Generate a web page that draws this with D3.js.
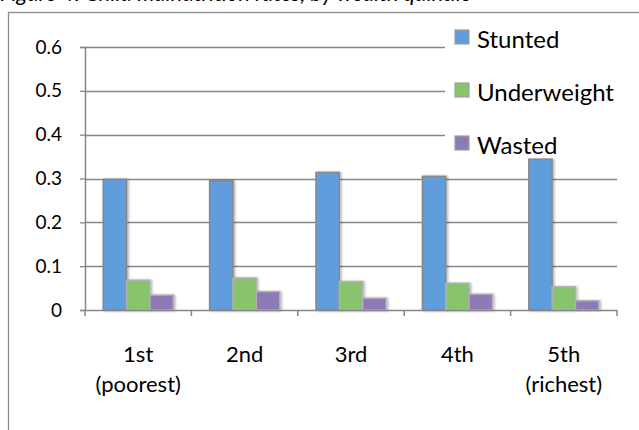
<!DOCTYPE html>
<html>
<head>
<meta charset="utf-8">
<script src="https://cdn.jsdelivr.net/npm/d3@7/dist/d3.min.js"></script>
<style>
  body { margin: 0; background: #fff; }
  svg { display: block; font-family: Lato, "Open Sans", sans-serif; }
</style>
</head>
<body>
<div id="chart"></div>
<script>
// data
const quintiles   = [["1st", "(poorest)"], ["2nd"], ["3rd"], ["4th"], ["5th", "(richest)"]];
const seriesNames = ["Stunted", "Underweight", "Wasted"];
const stunted     = [0.298, 0.295, 0.314, 0.305, 0.344];
const underweight = [0.068, 0.073, 0.065, 0.061, 0.053];
const wasted      = [0.034, 0.042, 0.027, 0.036, 0.021];
const yTicks      = [0, 0.1, 0.2, 0.3, 0.4, 0.5, 0.6];
const titleText   = "Figure 4: Child malnutrition rates, by wealth quintile";

const WIDTH  = 639;
const HEIGHT = 430;
const PLOT   = { left: 85, right: 617, top: 47, bottom: 310 };
const COLORS = { Stunted: "#5f9ddc", Underweight: "#88c36d", Wasted: "#8f7ab8" };
const EDGE   = { Stunted: "#888", Underweight: "#b0b0b0", Wasted: "#b0b0b0" };
const GRID   = "#878787";

const values = { Stunted: stunted, Underweight: underweight, Wasted: wasted };
const cats   = quintiles.map(q => q.join(" "));
const rows   = cats.map((c, i) => ({ cat: c, lines: quintiles[i],
    vals: seriesNames.map(s => ({ key: s, value: values[s][i] })) }));

const svg = d3.select("#chart").append("svg")
    .attr("width", WIDTH)
    .attr("height", HEIGHT);

const defs = svg.append("defs");
defs.append("filter").attr("id", "shadow")
    .attr("x", "-30%").attr("y", "-10%").attr("width", "170%").attr("height", "130%")
    .append("feDropShadow")
    .attr("dx", 1.5).attr("dy", 0.5).attr("stdDeviation", 1.3)
    .attr("flood-color", "#000").attr("flood-opacity", 0.3);

// title (mostly cut off by the top edge, as in the source)
svg.append("text")
    .attr("x", 0).attr("y", 1)
    .attr("font-size", 22).attr("font-style", "italic")
    .attr("fill", "#000")
    .text(titleText);

// chart frame
svg.append("rect")
    .attr("x", 8.5).attr("y", 12.5)
    .attr("width", 800).attr("height", 600)
    .attr("fill", "none").attr("stroke", "#8c8c8c").attr("stroke-width", 1.3);

const x0 = d3.scaleBand().domain(cats).range([PLOT.left, PLOT.right]).paddingInner(0).paddingOuter(0);
const x1 = d3.scaleBand().domain(seriesNames).range([0, x0.bandwidth()]).paddingInner(0).paddingOuter(0.78);
const y  = d3.scaleLinear().domain([0, 0.6]).range([PLOT.bottom, PLOT.top]);

// gridlines
svg.append("g")
    .selectAll("line")
    .data(yTicks.filter(d => d > 0))
    .join("line")
    .attr("x1", PLOT.left).attr("x2", PLOT.right)
    .attr("y1", d => Math.round(y(d)) + 0.5).attr("y2", d => Math.round(y(d)) + 0.5)
    .attr("stroke", GRID).attr("stroke-width", 1.3);

// y axis
const yAxis = svg.append("g")
    .attr("transform", `translate(${PLOT.left},0)`)
    .call(d3.axisLeft(y).tickValues(yTicks).tickSize(5).tickPadding(18)
        .tickFormat(d => d === 0 ? "0" : d3.format(".1f")(d)));
yAxis.select(".domain").attr("stroke", GRID).attr("stroke-width", 1.5);
yAxis.selectAll(".tick line").attr("stroke", GRID).attr("stroke-width", 1.3);
yAxis.selectAll(".tick text").attr("font-size", 19).attr("fill", "#000")
    .attr("font-family", "Lato, sans-serif");

// bars
const groups = svg.append("g")
    .selectAll("g")
    .data(rows)
    .join("g")
    .attr("transform", d => `translate(${x0(d.cat)},0)`);

groups.selectAll("rect")
    .data(d => d.vals)
    .join("rect")
    .attr("x", d => x1(d.key))
    .attr("y", d => y(d.value))
    .attr("width", x1.bandwidth())
    .attr("height", d => y(0) - y(d.value))
    .attr("fill", d => COLORS[d.key])
    .attr("stroke", d => EDGE[d.key])
    .attr("stroke-width", 1.5)
    .attr("filter", "url(#shadow)");

// x axis
const xAxis = svg.append("g")
    .attr("transform", `translate(0,${PLOT.bottom})`);
xAxis.append("line")
    .attr("x1", PLOT.left).attr("x2", PLOT.right)
    .attr("y1", 0.5).attr("y2", 0.5)
    .attr("stroke", GRID).attr("stroke-width", 1.5);
xAxis.selectAll(".tk")
    .data(d3.range(cats.length + 1))
    .join("line")
    .attr("class", "tk")
    .attr("x1", i => i < cats.length ? x0(cats[i]) : PLOT.right)
    .attr("x2", i => i < cats.length ? x0(cats[i]) : PLOT.right)
    .attr("y1", 0).attr("y2", 6)
    .attr("stroke", GRID).attr("stroke-width", 1.5);

const labels = xAxis.selectAll(".lbl")
    .data(rows)
    .join("text")
    .attr("class", "lbl")
    .attr("text-anchor", "middle")
    .attr("font-size", 22)
    .attr("fill", "#000");
labels.selectAll("tspan")
    .data(d => d.lines.map(l => ({ cat: d.cat, text: l })))
    .join("tspan")
    .attr("x", d => x0(d.cat) + x0.bandwidth() / 2)
    .attr("y", (d, i) => 52 + i * 30)
    .text(d => d.text);

// legend
const legend = svg.append("g").attr("transform", "translate(445,25)");
legend.append("rect")
    .attr("width", 175).attr("height", 133)
    .attr("fill", "#fff");
const item = legend.selectAll(".item")
    .data(seriesNames)
    .join("g")
    .attr("class", "item")
    .attr("transform", (d, i) => `translate(10,${5 + i * 53})`);
item.append("rect")
    .attr("width", 14).attr("height", 14)
    .attr("fill", d => COLORS[d])
    .attr("stroke", "#a0a0a0").attr("stroke-width", 1.2);
item.append("text")
    .attr("x", 22).attr("y", 18)
    .attr("font-size", 24)
    .attr("fill", "#000")
    .text(d => d);
</script>
</body>
</html>
